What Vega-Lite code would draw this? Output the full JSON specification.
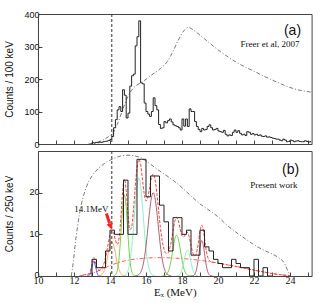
{
"$schema": "https://vega.github.io/schema/vega-lite/v6.json",
"padding": {"left": 4, "top": 9, "right": 12, "bottom": 4},
"spacing": 0,
"config": {
  "view": {"stroke": "#444", "strokeWidth": 1},
  "axis": {"grid": false, "domainColor": "#444", "tickColor": "#444", "tickSize": -4, "labelColor": "#111", "titleColor": "#111", "labelFont": "Liberation Sans", "titleFont": "Liberation Sans", "labelFontSize": 9, "titleFontSize": 10, "titleFontWeight": "normal", "labelFlush": false, "labelOverlap": false},
  "axisY": {"minExtent": 20, "maxExtent": 20, "labelPadding": 3, "titlePadding": 3}
},
"datasets": {
  "ha": [
    {"E":13.0,"c":0},{"E":13.0,"c":4},{"E":13.1,"c":3},{"E":13.2,"c":5},{"E":13.3,"c":4},{"E":13.4,"c":6},{"E":13.5,"c":5},{"E":13.6,"c":7},{"E":13.7,"c":8},{"E":13.8,"c":9},{"E":13.9,"c":11},
    {"E":14.0,"c":14},{"E":14.1,"c":23},{"E":14.2,"c":50},{"E":14.3,"c":75},{"E":14.4,"c":105},{"E":14.5,"c":115},{"E":14.6,"c":100},{"E":14.7,"c":167},{"E":14.8,"c":150},{"E":14.9,"c":80},
    {"E":15.0,"c":95},{"E":15.1,"c":178},{"E":15.2,"c":210},{"E":15.3,"c":215},{"E":15.4,"c":302},{"E":15.5,"c":330},{"E":15.6,"c":379},{"E":15.7,"c":188},{"E":15.8,"c":185},{"E":15.9,"c":126},
    {"E":16.0,"c":100},{"E":16.1,"c":92},{"E":16.2,"c":85},{"E":16.3,"c":100},{"E":16.4,"c":142},{"E":16.5,"c":118},{"E":16.6,"c":105},{"E":16.7,"c":60},{"E":16.8,"c":48},{"E":16.9,"c":50},
    {"E":17.0,"c":69},{"E":17.1,"c":65},{"E":17.2,"c":72},{"E":17.3,"c":77},{"E":17.4,"c":68},{"E":17.5,"c":59},{"E":17.6,"c":56},{"E":17.7,"c":54},{"E":17.8,"c":50},{"E":17.9,"c":43},
    {"E":18.0,"c":77},{"E":18.1,"c":55},{"E":18.2,"c":77},{"E":18.3,"c":54},{"E":18.4,"c":108},{"E":18.5,"c":100},{"E":18.6,"c":100},{"E":18.7,"c":69},{"E":18.8,"c":54},{"E":18.9,"c":45},
    {"E":19.0,"c":38},{"E":19.1,"c":48},{"E":19.2,"c":43},{"E":19.3,"c":45},{"E":19.4,"c":54},{"E":19.5,"c":59},{"E":19.6,"c":50},{"E":19.7,"c":43},{"E":19.8,"c":45},{"E":19.9,"c":48},
    {"E":20.0,"c":40},{"E":20.1,"c":38},{"E":20.2,"c":36},{"E":20.3,"c":42},{"E":20.4,"c":30},{"E":20.5,"c":25},{"E":20.6,"c":28},{"E":20.7,"c":26},{"E":20.8,"c":36},{"E":20.9,"c":43},
    {"E":21.0,"c":36},{"E":21.1,"c":41},{"E":21.2,"c":33},{"E":21.3,"c":28},{"E":21.4,"c":30},{"E":21.5,"c":26},{"E":21.6,"c":38},{"E":21.7,"c":36},{"E":21.8,"c":30},{"E":21.9,"c":32},
    {"E":22.0,"c":28},{"E":22.1,"c":30},{"E":22.2,"c":26},{"E":22.3,"c":28},{"E":22.4,"c":24},{"E":22.5,"c":23},{"E":22.6,"c":25},{"E":22.7,"c":21},{"E":22.8,"c":22},{"E":22.9,"c":20},
    {"E":23.0,"c":18},{"E":23.1,"c":17},{"E":23.2,"c":15},{"E":23.3,"c":15},{"E":23.4,"c":12},{"E":23.5,"c":10},{"E":23.6,"c":15},{"E":23.7,"c":12},{"E":23.8,"c":7},{"E":23.9,"c":8},
    {"E":24.0,"c":12},{"E":24.1,"c":10},{"E":24.2,"c":7},{"E":24.3,"c":9},{"E":24.4,"c":10},{"E":24.5,"c":8},{"E":24.6,"c":7},{"E":24.7,"c":7},{"E":24.8,"c":10},{"E":24.9,"c":8},
    {"E":25.0,"c":6},{"E":25.1,"c":7},{"E":25.2,"c":7}
  ],
  "hb": [
    {"E":13.0,"c":0},{"E":13.0,"c":4},{"E":13.25,"c":2},{"E":13.5,"c":2},{"E":13.75,"c":6},{"E":14.0,"c":11},{"E":14.25,"c":10},{"E":14.5,"c":10},{"E":14.75,"c":23},
    {"E":15.0,"c":10},{"E":15.25,"c":10},{"E":15.5,"c":28},{"E":15.75,"c":28},{"E":16.0,"c":19},{"E":16.25,"c":24},{"E":16.5,"c":24},{"E":16.75,"c":17},
    {"E":17.0,"c":13},{"E":17.25,"c":6},{"E":17.5,"c":14},{"E":17.75,"c":14},{"E":18.0,"c":10},{"E":18.25,"c":11},{"E":18.5,"c":5},{"E":18.75,"c":5},
    {"E":19.0,"c":11},{"E":19.25,"c":7},{"E":19.5,"c":6},{"E":19.75,"c":4},{"E":20.0,"c":3},{"E":20.25,"c":2},{"E":20.5,"c":2},{"E":20.75,"c":4},
    {"E":21.0,"c":3},{"E":21.25,"c":2},{"E":21.5,"c":2},{"E":21.75,"c":0},{"E":22.0,"c":4},{"E":22.25,"c":0},{"E":22.5,"c":2},{"E":22.75,"c":0},{"E":23.0,"c":0}
  ],
  "ea": [
    {"E":12.8,"c":0},{"E":13.2,"c":4},{"E":13.6,"c":12},{"E":13.9,"c":22},{"E":14.15,"c":33},{"E":14.4,"c":60},{"E":14.7,"c":105},{"E":15.0,"c":147},{"E":15.3,"c":172},
    {"E":15.6,"c":185},{"E":15.9,"c":195},{"E":16.3,"c":212},{"E":16.8,"c":232},{"E":17.2,"c":255},{"E":17.5,"c":285},{"E":17.8,"c":320},{"E":18.1,"c":348},{"E":18.35,"c":359},
    {"E":18.6,"c":352},{"E":19.0,"c":335},{"E":19.5,"c":312},{"E":20.0,"c":290},{"E":20.5,"c":270},{"E":21.0,"c":252},{"E":21.5,"c":237},{"E":22.0,"c":224},{"E":22.5,"c":210},
    {"E":23.0,"c":197},{"E":23.5,"c":185},{"E":24.0,"c":174},{"E":24.5,"c":166},{"E":25.0,"c":161},{"E":25.2,"c":159}
  ],
  "eb": [
    {"E":11.85,"c":0},{"E":11.95,"c":3},{"E":12.05,"c":7},{"E":12.2,"c":12},{"E":12.4,"c":17},{"E":12.7,"c":21.5},{"E":13.0,"c":24},{"E":13.4,"c":26},{"E":13.8,"c":27.3},
    {"E":14.2,"c":28.2},{"E":14.6,"c":28.8},{"E":15.0,"c":29},{"E":15.4,"c":28.8},{"E":15.8,"c":28.2},{"E":16.2,"c":27},{"E":16.6,"c":25.7},{"E":17.0,"c":24.5},{"E":17.5,"c":23},
    {"E":18.0,"c":21.2},{"E":18.5,"c":19.2},{"E":19.0,"c":17.3},{"E":19.5,"c":15.8},{"E":20.0,"c":14.2},{"E":20.5,"c":12.2},{"E":21.0,"c":10.5},{"E":21.5,"c":9},{"E":22.0,"c":7.5},
    {"E":22.5,"c":6.3},{"E":23.0,"c":5.3},{"E":23.4,"c":4.3},{"E":23.7,"c":3},{"E":23.85,"c":1.5},{"E":24.0,"c":0}
  ],
  "bg": [
    {"E":12.3,"c":0},{"E":12.6,"c":0.3},{"E":13.0,"c":0.65},{"E":13.5,"c":1.5},{"E":14.0,"c":2.5},{"E":14.5,"c":3.25},{"E":15.0,"c":3.8},{"E":15.5,"c":4.1},{"E":16.0,"c":4.3},
    {"E":16.5,"c":4.4},{"E":17.0,"c":4.4},{"E":17.5,"c":4.3},{"E":18.0,"c":4.2},{"E":18.5,"c":4.0},{"E":19.0,"c":3.75},{"E":19.5,"c":3.45},{"E":20.0,"c":3.1},{"E":20.5,"c":2.7},
    {"E":21.0,"c":2.3},{"E":21.5,"c":1.85},{"E":22.0,"c":1.4},{"E":22.5,"c":1.0},{"E":23.0,"c":0.6},{"E":23.5,"c":0.3},{"E":24.0,"c":0.05}
  ],
  "fit": [
    {"E":12.5,"c":0.2},{"E":12.6,"c":0.3},{"E":12.7,"c":0.38},{"E":12.8,"c":0.49},{"E":12.9,"c":1.04},{"E":13.0,"c":2.83},{"E":13.1,"c":4.4},{"E":13.2,"c":3.13},{"E":13.3,"c":1.6},{"E":13.4,"c":1.39},
    {"E":13.5,"c":1.7},{"E":13.6,"c":2.32},{"E":13.7,"c":3.47},{"E":13.8,"c":5.34},{"E":13.9,"c":7.72},{"E":14.0,"c":9.9},{"E":14.1,"c":10.85},{"E":14.2,"c":10.24},{"E":14.3,"c":8.63},{"E":14.4,"c":7.57},
    {"E":14.5,"c":8.93},{"E":14.6,"c":13.78},{"E":14.7,"c":20.14},{"E":14.8,"c":23.29},{"E":14.9,"c":20.58},{"E":15.0,"c":14.88},{"E":15.1,"c":11.14},{"E":15.2,"c":11.66},{"E":15.3,"c":15.65},{"E":15.4,"c":21.18},
    {"E":15.5,"c":25.9},{"E":15.6,"c":27.99},{"E":15.7,"c":26.77},{"E":15.8,"c":23.27},{"E":15.9,"c":19.75},{"E":16.0,"c":18.04},{"E":16.1,"c":18.75},{"E":16.2,"c":21.17},{"E":16.3,"c":23.58},{"E":16.4,"c":24.49},
    {"E":16.5,"c":23.2},{"E":16.6,"c":19.9},{"E":16.7,"c":15.67},{"E":16.8,"c":11.61},{"E":16.9,"c":8.47},{"E":17.0,"c":6.47},{"E":17.1,"c":5.5},{"E":17.2,"c":5.44},{"E":17.3,"c":6.33},{"E":17.4,"c":8.22},
    {"E":17.5,"c":10.78},{"E":17.6,"c":13.12},{"E":17.7,"c":14.08},{"E":17.8,"c":13.21},{"E":17.9,"c":11.23},{"E":18.0,"c":9.62},{"E":18.1,"c":9.38},{"E":18.2,"c":10.17},{"E":18.3,"c":10.52},{"E":18.4,"c":9.41},
    {"E":18.5,"c":7.36},{"E":18.6,"c":5.56},{"E":18.7,"c":4.8},{"E":18.8,"c":5.45},{"E":18.9,"c":7.71},{"E":19.0,"c":10.74},{"E":19.1,"c":12.19},{"E":19.2,"c":10.62},{"E":19.3,"c":7.46},{"E":19.4,"c":4.98},
    {"E":19.5,"c":3.82},{"E":19.6,"c":3.44},{"E":19.7,"c":3.32},{"E":20.0,"c":3.1},{"E":20.5,"c":2.7},{"E":21.0,"c":2.3},{"E":21.5,"c":1.85},{"E":22.0,"c":1.4},{"E":22.5,"c":1.0},{"E":23.0,"c":0.6},
    {"E":23.5,"c":0.3},{"E":24.0,"c":0.05}
  ],
  "comp": [
    {"g":"g1","E":12.7,"c":0},{"g":"g1","E":12.8,"c":0.04},{"g":"g1","E":12.9,"c":0.49},{"g":"g1","E":13.0,"c":2.18},{"g":"g1","E":13.1,"c":3.6},{"g":"g1","E":13.2,"c":2.18},{"g":"g1","E":13.3,"c":0.49},{"g":"g1","E":13.4,"c":0.04},{"g":"g1","E":13.5,"c":0},
    {"g":"g2","E":13.3,"c":0.01},{"g":"g2","E":13.4,"c":0.05},{"g":"g2","E":13.5,"c":0.2},{"g":"g2","E":13.6,"c":0.62},{"g":"g2","E":13.7,"c":1.57},{"g":"g2","E":13.8,"c":3.24},{"g":"g2","E":13.9,"c":5.42},{"g":"g2","E":14.0,"c":7.4},{"g":"g2","E":14.1,"c":8.2},{"g":"g2","E":14.2,"c":7.4},{"g":"g2","E":14.3,"c":5.42},{"g":"g2","E":14.4,"c":3.24},{"g":"g2","E":14.5,"c":1.57},{"g":"g2","E":14.6,"c":0.62},{"g":"g2","E":14.7,"c":0.2},{"g":"g2","E":14.8,"c":0.05},{"g":"g2","E":14.9,"c":0.01},
    {"g":"g3","E":14.2,"c":0.04},{"g":"g3","E":14.3,"c":0.26},{"g":"g3","E":14.4,"c":1.23},{"g":"g3","E":14.5,"c":4.11},{"g":"g3","E":14.6,"c":9.76},{"g":"g3","E":14.7,"c":16.4},{"g":"g3","E":14.8,"c":19.5},{"g":"g3","E":14.9,"c":16.4},{"g":"g3","E":15.0,"c":9.76},{"g":"g3","E":15.1,"c":4.11},{"g":"g3","E":15.2,"c":1.23},{"g":"g3","E":15.3,"c":0.26},{"g":"g3","E":15.4,"c":0.04},
    {"g":"g4","E":14.7,"c":0.04},{"g":"g4","E":14.8,"c":0.14},{"g":"g4","E":14.9,"c":0.47},{"g":"g4","E":15.0,"c":1.32},{"g":"g4","E":15.1,"c":3.18},{"g":"g4","E":15.2,"c":6.53},{"g":"g4","E":15.3,"c":11.44},{"g":"g4","E":15.4,"c":17.06},{"g":"g4","E":15.5,"c":21.69},{"g":"g4","E":15.6,"c":23.5},{"g":"g4","E":15.7,"c":21.69},{"g":"g4","E":15.8,"c":17.06},{"g":"g4","E":15.9,"c":11.44},{"g":"g4","E":16.0,"c":6.53},{"g":"g4","E":16.1,"c":3.18},{"g":"g4","E":16.2,"c":1.32},{"g":"g4","E":16.3,"c":0.47},{"g":"g4","E":16.4,"c":0.14},{"g":"g4","E":16.5,"c":0.04},
    {"g":"g5","E":15.4,"c":0.03},{"g":"g5","E":15.5,"c":0.11},{"g":"g5","E":15.6,"c":0.34},{"g":"g5","E":15.7,"c":0.88},{"g":"g5","E":15.8,"c":2.01},{"g":"g5","E":15.9,"c":4.06},{"g":"g5","E":16.0,"c":7.21},{"g":"g5","E":16.1,"c":11.27},{"g":"g5","E":16.2,"c":15.5},{"g":"g5","E":16.3,"c":18.76},{"g":"g5","E":16.4,"c":20},{"g":"g5","E":16.5,"c":18.76},{"g":"g5","E":16.6,"c":15.5},{"g":"g5","E":16.7,"c":11.27},{"g":"g5","E":16.8,"c":7.21},{"g":"g5","E":16.9,"c":4.06},{"g":"g5","E":17.0,"c":2.01},{"g":"g5","E":17.1,"c":0.88},{"g":"g5","E":17.2,"c":0.34},{"g":"g5","E":17.3,"c":0.11},{"g":"g5","E":17.4,"c":0.03},
    {"g":"g6","E":16.9,"c":0.01},{"g":"g6","E":17.0,"c":0.06},{"g":"g6","E":17.1,"c":0.24},{"g":"g6","E":17.2,"c":0.74},{"g":"g6","E":17.3,"c":1.88},{"g":"g6","E":17.4,"c":3.87},{"g":"g6","E":17.5,"c":6.48},{"g":"g6","E":17.6,"c":8.84},{"g":"g6","E":17.7,"c":9.8},{"g":"g6","E":17.8,"c":8.84},{"g":"g6","E":17.9,"c":6.48},{"g":"g6","E":18.0,"c":3.87},{"g":"g6","E":18.1,"c":1.88},{"g":"g6","E":18.2,"c":0.74},{"g":"g6","E":18.3,"c":0.24},{"g":"g6","E":18.4,"c":0.06},{"g":"g6","E":18.5,"c":0.01},
    {"g":"g7","E":17.7,"c":0.02},{"g":"g7","E":17.8,"c":0.13},{"g":"g7","E":17.9,"c":0.53},{"g":"g7","E":18.0,"c":1.55},{"g":"g7","E":18.1,"c":3.34},{"g":"g7","E":18.2,"c":5.31},{"g":"g7","E":18.3,"c":6.2},{"g":"g7","E":18.4,"c":5.31},{"g":"g7","E":18.5,"c":3.34},{"g":"g7","E":18.6,"c":1.55},{"g":"g7","E":18.7,"c":0.53},{"g":"g7","E":18.8,"c":0.13},{"g":"g7","E":18.9,"c":0.02},
    {"g":"g8","E":18.5,"c":0.01},{"g":"g8","E":18.6,"c":0.06},{"g":"g8","E":18.7,"c":0.37},{"g":"g8","E":18.8,"c":1.47},{"g":"g8","E":18.9,"c":3.89},{"g":"g8","E":19.0,"c":6.99},{"g":"g8","E":19.1,"c":8.5},{"g":"g8","E":19.2,"c":6.99},{"g":"g8","E":19.3,"c":3.89},{"g":"g8","E":19.4,"c":1.47},{"g":"g8","E":19.5,"c":0.37},{"g":"g8","E":19.6,"c":0.06},{"g":"g8","E":19.7,"c":0.01}
  ]
},
"vconcat": [
  {
    "width": 273.6, "height": 130,
    "layer": [
      {"data": {"name": "ea"}, "mark": {"type": "line", "interpolate": "monotone", "strokeDash": [4, 2, 1, 2], "stroke": "#555", "strokeWidth": 0.8, "clip": true},
       "encoding": {
         "x": {"field": "E", "type": "quantitative", "scale": {"domain": [10, 25.2], "nice": false, "zero": false}, "axis": {"values": [10,11,12,13,14,15,16,17,18,19,20,21,22,23,24,25], "tickCount": 40, "labels": false, "title": null}},
         "y": {"field": "c", "type": "quantitative", "scale": {"domain": [0, 400], "nice": false}, "axis": {"values": [0,100,200,300,400], "tickCount": 20, "format": "d", "labelOverlap": false, "labelBound": false, "title": "Counts / 100 keV"}}
       }},
      {"data": {"name": "ha"}, "mark": {"type": "line", "interpolate": "step-after", "stroke": "#222", "strokeWidth": 1, "clip": true},
       "encoding": {"x": {"field": "E", "type": "quantitative"}, "y": {"field": "c", "type": "quantitative"}}},
      {"data": {"values": [{}]}, "mark": {"type": "rule", "strokeDash": [3, 2], "stroke": "#333", "strokeWidth": 1},
       "encoding": {"x": {"datum": 14.1, "type": "quantitative"}}},
      {"data": {"values": [{}]}, "mark": {"type": "text", "font": "Liberation Sans", "fontSize": 14, "color": "#111"},
       "encoding": {"x": {"datum": 24.14, "type": "quantitative"}, "y": {"datum": 347, "type": "quantitative"}, "text": {"value": "(a)"}}},
      {"data": {"values": [{}]}, "mark": {"type": "text", "font": "Liberation Serif", "fontSize": 9, "color": "#111"},
       "encoding": {"x": {"datum": 22.89, "type": "quantitative"}, "y": {"datum": 307, "type": "quantitative"}, "text": {"value": "Freer et al, 2007"}}}
    ]
  },
  {
    "width": 273.6, "height": 125,
    "layer": [
      {"data": {"name": "eb"}, "mark": {"type": "line", "interpolate": "monotone", "strokeDash": [4, 2, 1, 2], "stroke": "#555", "strokeWidth": 0.8, "clip": true},
       "encoding": {
         "x": {"field": "E", "type": "quantitative", "scale": {"domain": [10, 25.2], "nice": false, "zero": false}, "axis": {"values": [10,11,12,13,14,15,16,17,18,19,20,21,22,23,24,25], "tickCount": 40, "format": "d", "labelOverlap": false, "labelBound": false, "labelExpr": "datum.value % 2 == 0 ? datum.label : ''", "title": "Eₓ (MeV)", "labelFont": "Liberation Serif", "labelFontSize": 10, "titleFont": "Liberation Serif", "titleFontSize": 11, "labelPadding": 4, "titlePadding": 1}},
         "y": {"field": "c", "type": "quantitative", "scale": {"domain": [0, 30], "nice": false}, "axis": {"values": [0,10,20], "tickCount": 20, "format": "d", "labelOffset": -1, "labelOverlap": false, "title": "Counts / 250 keV"}}
       }},
      {"data": {"name": "bg"}, "mark": {"type": "line", "interpolate": "monotone", "strokeDash": [4, 2, 1, 2], "stroke": "#ff3333", "strokeWidth": 0.8, "clip": true},
       "encoding": {"x": {"field": "E", "type": "quantitative"}, "y": {"field": "c", "type": "quantitative"}}},
      {"data": {"name": "comp"}, "mark": {"type": "line", "interpolate": "monotone", "strokeWidth": 0.9, "clip": true},
       "encoding": {"x": {"field": "E", "type": "quantitative"}, "y": {"field": "c", "type": "quantitative"},
         "color": {"field": "g", "type": "nominal", "legend": null, "scale": {"domain": ["g1","g2","g3","g4","g5","g6","g7","g8"], "range": ["#3355dd","#f4a460","#66cc33","#7feec0","#a0525f","#66cc33","#7feec0","#a0525f"]}}}},
      {"data": {"name": "fit"}, "mark": {"type": "line", "interpolate": "monotone", "strokeDash": [3, 1.5], "stroke": "#ff3b3b", "strokeWidth": 1, "clip": true},
       "encoding": {"x": {"field": "E", "type": "quantitative"}, "y": {"field": "c", "type": "quantitative"}}},
      {"data": {"name": "hb"}, "mark": {"type": "line", "interpolate": "step-after", "stroke": "#222", "strokeWidth": 1, "clip": true},
       "encoding": {"x": {"field": "E", "type": "quantitative"}, "y": {"field": "c", "type": "quantitative"}}},
      {"data": {"values": [{}]}, "mark": {"type": "rule", "strokeDash": [3, 2], "stroke": "#333", "strokeWidth": 1},
       "encoding": {"x": {"datum": 14.1, "type": "quantitative"}}},
      {"data": {"values": [{}]}, "mark": {"type": "text", "font": "Liberation Sans", "fontSize": 14, "color": "#111"},
       "encoding": {"x": {"datum": 24.03, "type": "quantitative"}, "y": {"datum": 25.5, "type": "quantitative"}, "text": {"value": "(b)"}}},
      {"data": {"values": [{}]}, "mark": {"type": "text", "font": "Liberation Serif", "fontSize": 9, "color": "#111"},
       "encoding": {"x": {"datum": 23.1, "type": "quantitative"}, "y": {"datum": 21.9, "type": "quantitative"}, "text": {"value": "Present work"}}},
      {"data": {"values": [{}]}, "mark": {"type": "text", "font": "Liberation Serif", "fontSize": 9, "color": "#111"},
       "encoding": {"x": {"datum": 12.97, "type": "quantitative"}, "y": {"datum": 16.0, "type": "quantitative"}, "text": {"value": "14.1MeV"}}},
      {"data": {"values": [{}]}, "mark": {"type": "rule", "stroke": "#ff2020", "strokeWidth": 3},
       "encoding": {"x": {"datum": 13.8, "type": "quantitative"}, "y": {"datum": 15.0, "type": "quantitative"}, "x2": {"datum": 13.98}, "y2": {"datum": 12.6}}},
      {"data": {"values": [{}]}, "mark": {"type": "point", "shape": "triangle-down", "filled": true, "color": "#ff2020", "size": 45, "angle": -17, "opacity": 1},
       "encoding": {"x": {"datum": 14.03, "type": "quantitative"}, "y": {"datum": 11.9, "type": "quantitative"}}}
    ]
  }
]
}
